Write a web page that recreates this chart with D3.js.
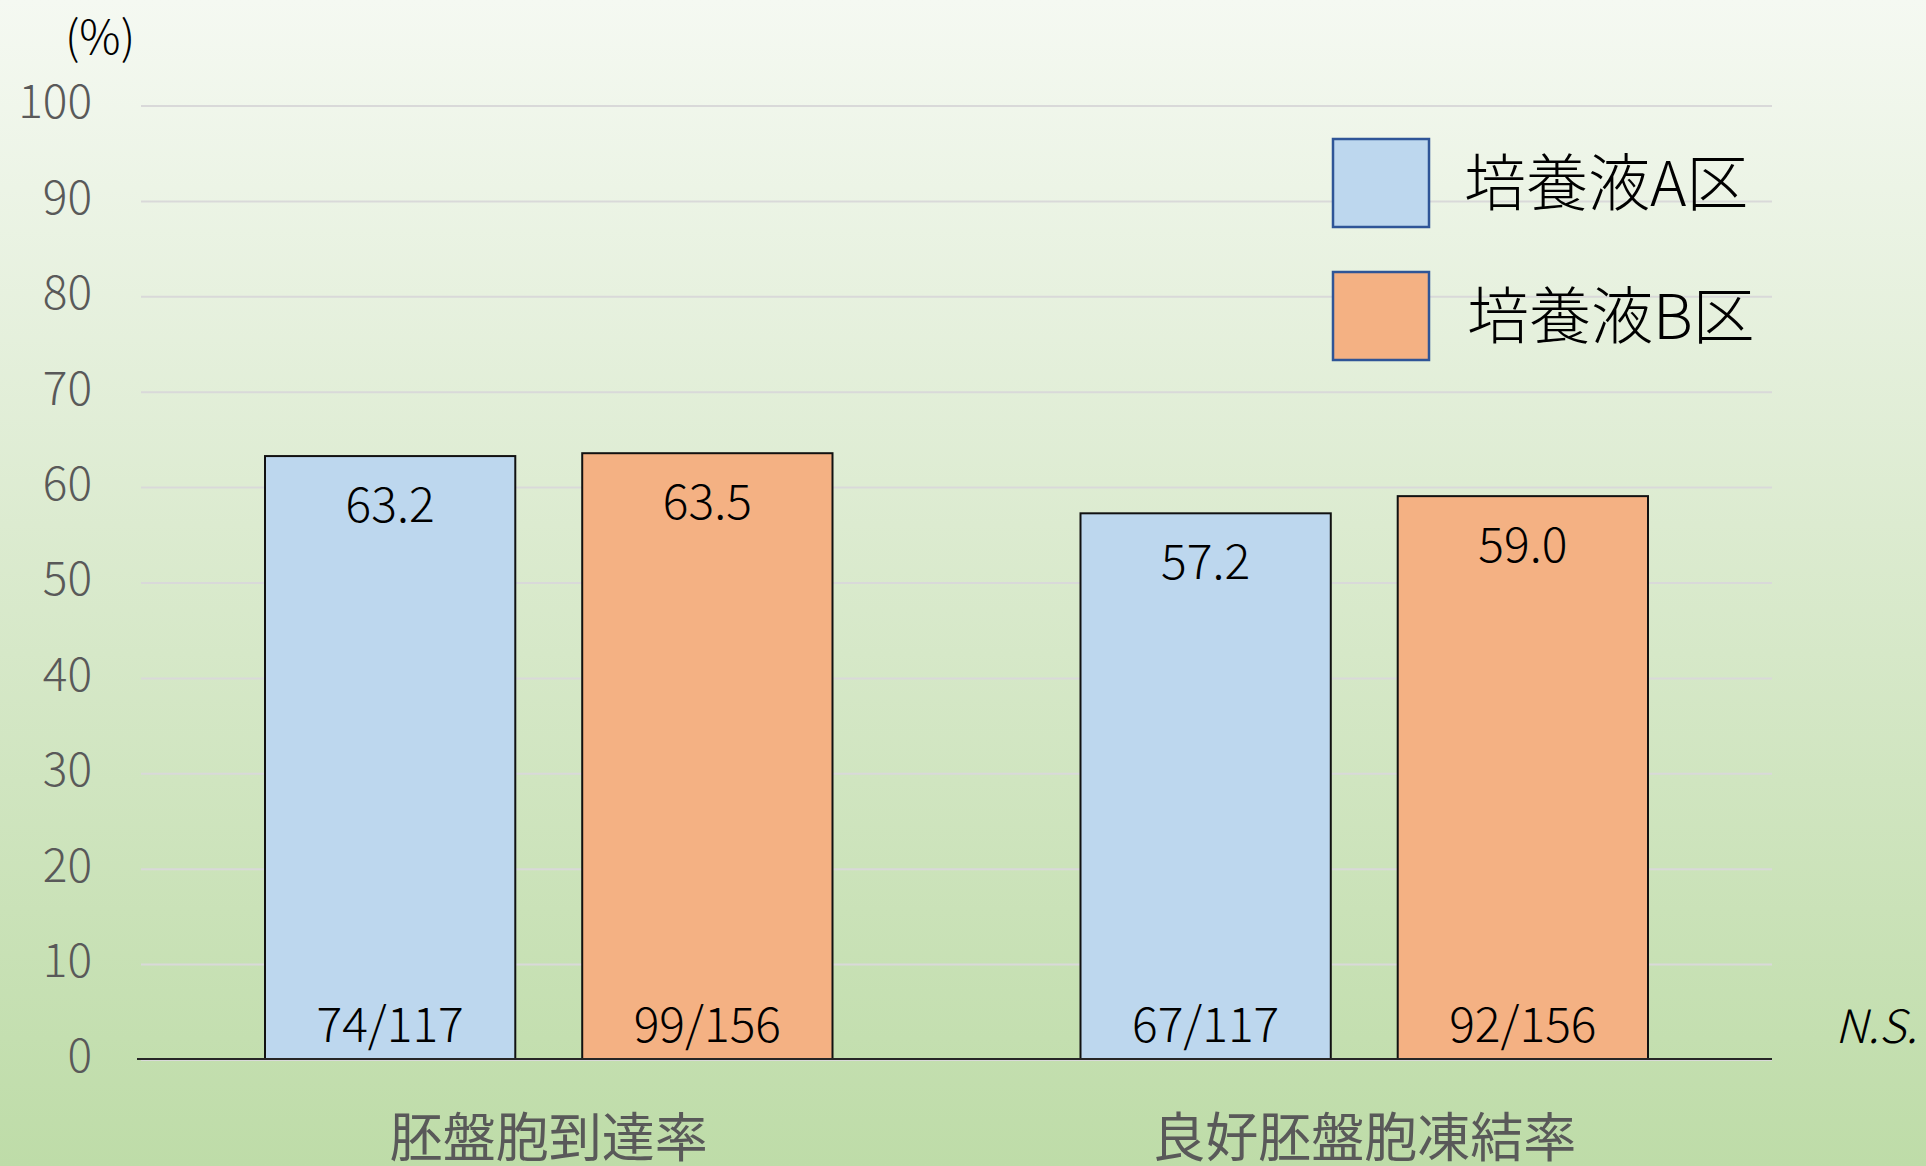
<!DOCTYPE html>
<html>
<head>
<meta charset="utf-8">
<script src="https://cdn.jsdelivr.net/npm/d3@7"></script>
<style>
    body { margin: 0; }
    svg { display: block; font-family: "Noto Sans CJK JP", "Noto Sans", sans-serif; }
</style>
</head>
<body>
<svg id="chart"></svg>
<script>
// chart data
var categories = ["胚盤胞到達率", "良好胚盤胞凍結率"];
var seriesNames = ["培養液A区", "培養液B区"];
var seriesA = [63.2, 57.2];
var seriesB = [63.5, 59.0];
var countsA = ["74/117", "67/117"];
var countsB = ["99/156", "92/156"];
var yTicks = [0, 10, 20, 30, 40, 50, 60, 70, 80, 90, 100];

var colors = ["#BDD7EE", "#F4B183"];

var width = 1926, height = 1166;
var margin = {top: 105, right: 154, bottom: 107, left: 141};

var svg = d3.select("#chart")
    .attr("width", width)
    .attr("height", height);

// background gradient
var grad = svg.append("defs").append("linearGradient")
    .attr("id", "bg")
    .attr("x1", 0).attr("y1", 0).attr("x2", 0).attr("y2", 1);
grad.append("stop").attr("offset", "0%").attr("stop-color", "#f5f9f2");
grad.append("stop").attr("offset", "45%").attr("stop-color", "#dcebd0");
grad.append("stop").attr("offset", "100%").attr("stop-color", "#bedca8");

svg.append("rect")
    .attr("width", width)
    .attr("height", height)
    .attr("fill", "url(#bg)");

var yScale = d3.scaleLinear()
    .domain([0, 100])
    .range([height - margin.bottom, margin.top]);

var x0 = d3.scaleBand()
    .domain(categories)
    .range([margin.left, width - margin.right]);

var x1 = d3.scaleBand()
    .domain(seriesNames)
    .range([124, x0.bandwidth() - 124])
    .paddingInner(0.211);

// gridlines
svg.append("g")
    .selectAll("line")
    .data(yTicks)
    .enter().append("line")
    .attr("x1", margin.left)
    .attr("x2", width - margin.right)
    .attr("y1", function (d) {return yScale(d) + 1;})
    .attr("y2", function (d) {return yScale(d) + 1;})
    .attr("stroke", "#d9d9d9")
    .attr("stroke-width", 2);

// y axis labels
var yAxis = d3.axisLeft(yScale)
    .tickValues(yTicks)
    .tickSize(0)
    .tickPadding(0);

var yg = svg.append("g")
    .attr("transform", "translate(92,0)")
    .call(yAxis);
yg.select(".domain").remove();
yg.selectAll("text")
    .attr("font-family", "Noto Sans CJK JP")
    .attr("font-size", 46)
    .attr("font-weight", 300)
    .attr("fill", "#595959")
    .attr("dy", "0.28em");

svg.append("text")
    .attr("x", 100)
    .attr("y", 54)
    .attr("text-anchor", "middle")
    .attr("font-size", 46)
    .attr("font-weight", 300)
    .attr("fill", "#000")
    .text("(%)");

// bars
var rows = categories.map(function (c, i) {
    return [
        {cat: c, name: seriesNames[0], value: seriesA[i], count: countsA[i], color: colors[0]},
        {cat: c, name: seriesNames[1], value: seriesB[i], count: countsB[i], color: colors[1]}
    ];
});

var group = svg.selectAll("g.group")
    .data(rows)
    .enter().append("g")
    .attr("class", "group")
    .attr("transform", function (d, i) {return "translate(" + x0(categories[i]) + ",0)";});

var bar = group.selectAll("g.bar")
    .data(function (d) {return d;})
    .enter().append("g")
    .attr("class", "bar");

bar.append("rect")
    .attr("x", function (d) {return x1(d.name);})
    .attr("y", function (d) {return yScale(d.value);})
    .attr("width", x1.bandwidth())
    .attr("height", function (d) {return yScale(0) - yScale(d.value);})
    .attr("fill", function (d) {return d.color;})
    .attr("stroke", "#111")
    .attr("stroke-width", 2);

bar.append("text")
    .attr("x", function (d) {return x1(d.name) + x1.bandwidth() / 2;})
    .attr("y", function (d) {return yScale(d.value) + 66;})
    .attr("text-anchor", "middle")
    .attr("font-size", 48)
    .attr("font-weight", 300)
    .attr("fill", "#000")
    .text(function (d) {return d.value.toFixed(1);});

bar.append("text")
    .attr("x", function (d) {return x1(d.name) + x1.bandwidth() / 2;})
    .attr("y", yScale(0) - 17)
    .attr("text-anchor", "middle")
    .attr("font-size", 48)
    .attr("font-weight", 300)
    .attr("fill", "#000")
    .text(function (d) {return d.count;});

// x axis baseline
svg.append("line")
    .attr("x1", 137)
    .attr("x2", width - margin.right)
    .attr("y1", yScale(0))
    .attr("y2", yScale(0))
    .attr("stroke", "#262626")
    .attr("stroke-width", 2);

// category labels
svg.append("g")
    .selectAll("text")
    .data(categories)
    .enter().append("text")
    .attr("x", function (d) {return x0(d) + x0.bandwidth() / 2;})
    .attr("y", 1157)
    .attr("text-anchor", "middle")
    .attr("font-size", 53)
    .attr("fill", "#595959")
    .text(function (d) {return d;});

// N.S.
svg.append("text")
    .attr("x", 1835)
    .attr("y", 1043)
    .attr("font-size", 46)
    .attr("font-style", "italic")
    .attr("font-weight", 300)
    .attr("fill", "#000")
    .text("N.S.");

// legend
var legend = svg.append("g")
    .selectAll("g")
    .data(seriesNames)
    .enter().append("g")
    .attr("transform", function (d, i) {return "translate(1333," + (139 + i * 133) + ")";});

legend.append("rect")
    .attr("width", 96)
    .attr("height", 88)
    .attr("fill", function (d, i) {return colors[i];})
    .attr("stroke", "#2f5597")
    .attr("stroke-width", 2.5);

legend.append("text")
    .attr("x", function (d, i) {return 131 + i * 3;})
    .attr("y", 67)
    .attr("font-size", 62)
    .attr("font-weight", 300)
    .attr("fill", "#000")
    .text(function (d) {return d;});
</script>
</body>
</html>
